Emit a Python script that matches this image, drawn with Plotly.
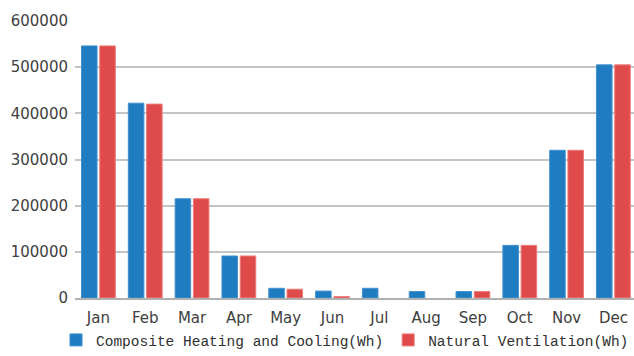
import plotly.graph_objects as go

months = ["Jan", "Feb", "Mar", "Apr", "May", "Jun", "Jul", "Aug", "Sep", "Oct", "Nov", "Dec"]
composite_wh = [546000, 422000, 215000, 91000, 21000, 15000, 21000, 14000, 14000, 114000, 320000, 505000]
natural_wh = [546000, 420000, 215000, 91000, 19000, 3000, 0, 0, 14000, 114000, 320000, 505000]
y_ticks = [0, 100000, 200000, 300000, 400000, 500000, 600000]


def outline_widths(values):
    # no outline on empty months so zero bars stay invisible
    return [1 if v > 0 else 0 for v in values]


fig = go.Figure()
fig.add_trace(go.Bar(
    x=months, y=composite_wh, name="Composite Heating and Cooling(Wh)",
    marker=dict(color="#1f7cc1", line=dict(color="#3f90cf", width=outline_widths(composite_wh))),
))
fig.add_trace(go.Bar(
    x=months, y=natural_wh, name="Natural Ventilation(Wh)",
    marker=dict(color="#df4a4a", line=dict(color="#ee7a7a", width=outline_widths(natural_wh))),
))

tick_font = dict(family="DejaVu Sans", size=15, color="#404040")

fig.update_layout(
    width=634, height=356,
    margin=dict(l=75, r=0, t=21, b=55),
    paper_bgcolor="white", plot_bgcolor="white",
    barmode="group", bargap=0.22, bargroupgap=0.15,
    showlegend=True,
    legend=dict(
        orientation="h", x=-0.03, xanchor="left", y=-0.094, yanchor="top",
        font=dict(family="Liberation Mono, Courier New, monospace", size=14.5, color="#303030"),
        itemwidth=30, tracegroupgap=0, bgcolor="rgba(0,0,0,0)",
    ),
    xaxis=dict(
        type="category", range=[-0.5, 11.44],
        showline=True, linecolor="#b0b0b0", linewidth=1.5,
        ticks="", tickfont=tick_font, showgrid=False, ticklabelstandoff=5,
    ),
    yaxis=dict(
        range=[0, 600000], tickvals=y_ticks, tickformat="d",
        showgrid=True, gridcolor="#c4c4c4", gridwidth=1.5,
        zeroline=False, showline=False, ticks="",
        tickfont=tick_font, ticklabelstandoff=6,
    ),
)

fig.write_html("out.html")
